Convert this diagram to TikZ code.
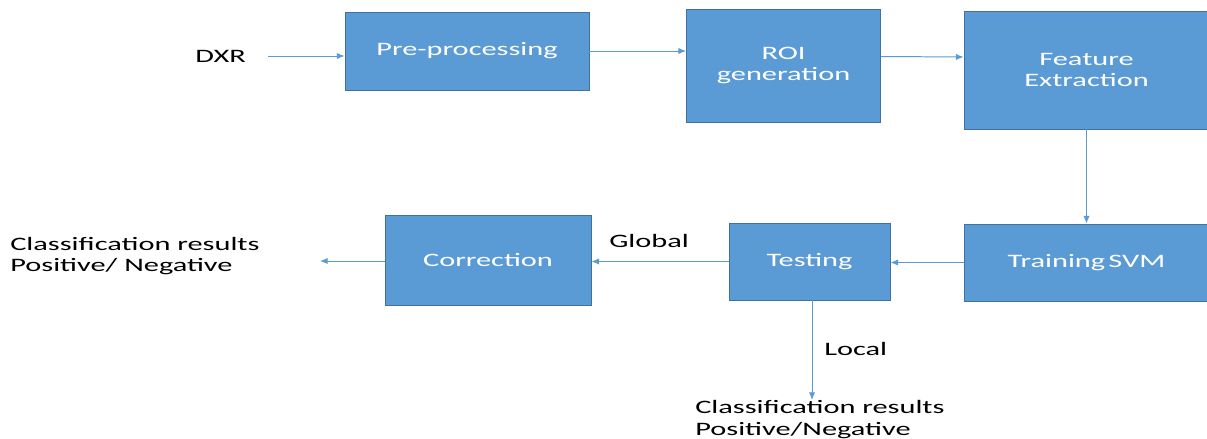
\documentclass[tikz,border=0pt]{standalone}
\usepackage{fontspec}
\setmainfont[FakeStretch=1.6]{Carlito}
\usetikzlibrary{arrows.meta,calc}
\definecolor{boxblue}{HTML}{5B9BD5}
\definecolor{boxline}{HTML}{41719C}
\tikzset{
  stage/.style={draw=boxline,line width=0.6pt,fill=boxblue,text=white,align=center,
    minimum width=#1,inner sep=0pt},
  flow/.style={draw=boxblue,line width=0.7pt,-{Latex[length=5.5pt,width=4.5pt]}},
  txt/.style={align=left,inner sep=0pt,anchor=west}
}
\begin{document}
\begin{tikzpicture}[x=0.025cm,y=-0.025cm,font=\fontsize{13.5}{15}\selectfont]
  \useasboundingbox (0,0) rectangle (1207,439);

  % top row
  \node[stage=244*0.025cm,minimum height=78*0.025cm] (pre) at (467,51) {Pre-processing};
  \node[stage=194*0.025cm,minimum height=113*0.025cm] (roi) at (783.5,65.5) {ROI\\generation};
  \node[stage=245*0.025cm,minimum height=118*0.025cm] (feat) at (1086.5,70) {Feature\\Extraction};

  % bottom row
  \node[stage=245*0.025cm,minimum height=77*0.025cm] (train) at (1086.5,262.5) {Training\,SVM};
  \node[stage=161*0.025cm,minimum height=77*0.025cm] (test) at (809.5,261.5) {Testing};
  \node[stage=206*0.025cm,minimum height=90*0.025cm] (corr) at (488,260) {Correction};

  % texts
  \node[txt] (dxr) at (195,56) {DXR};
  \node[txt] (out1) at (10,256) {Classification results\\Positive/ Negative};
  \node[txt] (out2) at (695,419.5) {Classification results\\Positive/Negative};
  \node[txt] (glob) at (609,241) {Global};
  \node[txt] (loc) at (824,349) {Local};
  \coordinate (end1) at (320,261);
  \coordinate (end2) at (812,400);

  \draw[flow,shorten <=22pt*0.7113] (dxr.east) -- (pre.west |- dxr.east);
  \draw[flow] (pre.east) -- (roi.west |- pre.east);
  \draw[flow] ($(roi.east)+(0,-9)$) -- ($(feat.west)+(0,-13)$);
  \draw[flow] (feat) -- (train);
  \draw[flow] (train) -- (test.east |- train);
  \draw[flow] (test.west) -- (corr.east |- test.west);
  \draw[flow] (corr.west |- end1) -- (end1);
  \draw[flow] (test.south -| end2) -- (end2);
\end{tikzpicture}
\end{document}
